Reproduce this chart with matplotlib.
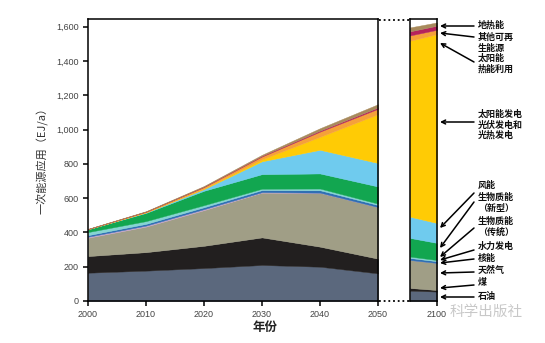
import matplotlib
matplotlib.use('Agg')
import matplotlib.pyplot as plt
from matplotlib.lines import Line2D
from matplotlib.ticker import FuncFormatter

plt.rcParams['font.family'] = ['Noto Sans CJK SC', 'DejaVu Sans']

# primary energy use (EJ/a), 2000-2050
years = [2000, 2010, 2020, 2030, 2040, 2050]
oil = [165, 177, 192, 210, 200, 161]
coal = [97, 108, 130, 161, 117, 86]
gas = [107, 149, 208, 261, 314, 301]
nuclear = [6, 6, 6, 3, 1, 0]
hydro = [9, 10, 11, 12, 14, 12]
bio_trad = [18, 16, 12, 8, 10, 8]
bio_new = [16, 48, 84, 85, 88, 100]
wind = [1, 3, 10, 75, 138, 137]
solar_el = [0, 1, 4, 12, 76, 285]
solar_heat = [1, 3, 8, 16, 30, 31]
other_ren = [0, 1, 2, 4, 6, 8]
geothermal = [1, 2, 4, 6, 14, 19]

# the narrow 2100 panel
tail_years = [2090, 2100]
oil_t = [60, 55]
coal_t = [16, 9]
gas_t = [163, 158]
nuclear_t = [0, 0]
hydro_t = [12, 10]
bio_trad_t = [8, 7]
bio_new_t = [109, 100]
wind_t = [124, 116]
solar_el_t = [1026, 1102]
solar_heat_t = [31, 25]
other_ren_t = [24, 24]
geothermal_t = [23, 19]

colors = ['#5b687d', '#221f1f', '#a09e86', '#c7a3c9', '#2f6fb3', '#86d4d2',
          '#12a650', '#6fcbee', '#ffcb05', '#f5a13a', '#b5235c', '#a88a5c']

labels = ['地热能', '其他可再\n生能源', '太阳能\n热能利用', '太阳能发电\n光伏发电和\n光热发电',
          '风能', '生物质能\n（新型）', '生物质能\n（传统）', '水力发电', '核能',
          '天然气', '煤', '石油']
# layout of the annotation labels, pixel rows: text centre, arrow tail, arrow head
label_y = [25, 43, 64, 125, 185, 203, 227, 246, 258, 270, 282, 297]
tail_y = [26, 37, 62, 122, 193, 202, 228, 250, 259, 272, 285, 297]
head_y = [26, 33, 43, 122, 228, 248, 257, 260, 263, 273, 288, 297]
line_pitch = 10.5

W, H = 545, 343
fig = plt.figure(figsize=(W / 100, H / 100), dpi=100)


def box(x0, y0, x1, y1):
    return [x0 / W, 1 - y1 / H, (x1 - x0) / W, (y1 - y0) / H]


def fx(x):
    return x / W


def fy(y):
    return 1 - y / H


ax = fig.add_axes(box(88, 19, 378, 301))
ax2 = fig.add_axes(box(410, 19, 437, 301))

main = [oil, coal, gas, nuclear, hydro, bio_trad, bio_new, wind,
        solar_el, solar_heat, other_ren, geothermal]
tail = [oil_t, coal_t, gas_t, nuclear_t, hydro_t, bio_trad_t, bio_new_t, wind_t,
        solar_el_t, solar_heat_t, other_ren_t, geothermal_t]

polys = ax.stackplot(years, *main, colors=colors)
polys += ax2.stackplot(tail_years, *tail, colors=colors)
for p in polys:
    p.set_edgecolor('face')
    p.set_linewidth(0.3)

ymax = 1645

ax.set_xlim(2000, 2050)
ax.set_ylim(0, ymax)
ax.set_xticks(years)
ax.set_yticks(range(0, 1601, 200))
ax.yaxis.set_major_formatter(FuncFormatter(lambda v, p: f'{int(v):,}'))
ax.tick_params(length=3.5, width=1.1, pad=3, colors='black', labelcolor='#444444')
for t in ax.get_xticklabels() + ax.get_yticklabels():
    t.set_fontfamily('Liberation Sans')
    t.set_fontsize(6.5)

ax2.set_xlim(2090, 2100)
ax2.set_ylim(0, ymax)
ax2.set_yticks([])
ax2.set_xticks([2100])
ax2.tick_params(length=3.5, width=1.1, pad=3, labelcolor='#444444')
for t in ax2.get_xticklabels():
    t.set_fontfamily('Liberation Sans')
    t.set_fontsize(6.5)

for a in (ax, ax2):
    for s in a.spines.values():
        s.set_linewidth(1.1)

# dotted links between the two panels
for y in (19.5, 300.5):
    fig.add_artist(Line2D([fx(379), fx(410)], [fy(y), fy(y)], color='black',
                          lw=1.3, linestyle=(0, (1, 1.6))))

fig.text(fx(42), fy(158), '一次能源应用（EJ/a）', rotation=90, ha='center',
         va='center', fontsize=8, color='#333333')
fig.text(fx(265), fy(327), '年份', ha='center', va='center', fontsize=9,
         weight='bold', color='#222222')

for lab, ly, ty, hy in zip(labels, label_y, tail_y, head_y):
    rows = lab.split('\n')
    for i, row in enumerate(rows):
        y = ly + (i - (len(rows) - 1) / 2) * line_pitch
        fig.text(fx(478), fy(y), row, ha='left', va='center', fontsize=6.5,
                 weight='bold', color='#111111')
    ax2.annotate('', xy=(fx(440), fy(hy)), xycoords='figure fraction',
                 xytext=(fx(474), fy(ty)), textcoords='figure fraction',
                 arrowprops=dict(arrowstyle='->', lw=1.1, color='black',
                                 shrinkA=0, shrinkB=0,
                                 mutation_scale=7))

# watermark
fig.text(fx(450), fy(312), '科学出版社', ha='left', va='center', fontsize=10.5,
         color='#bbbbbb', alpha=0.8)

fig.savefig('out.png', dpi=100, facecolor='white')
